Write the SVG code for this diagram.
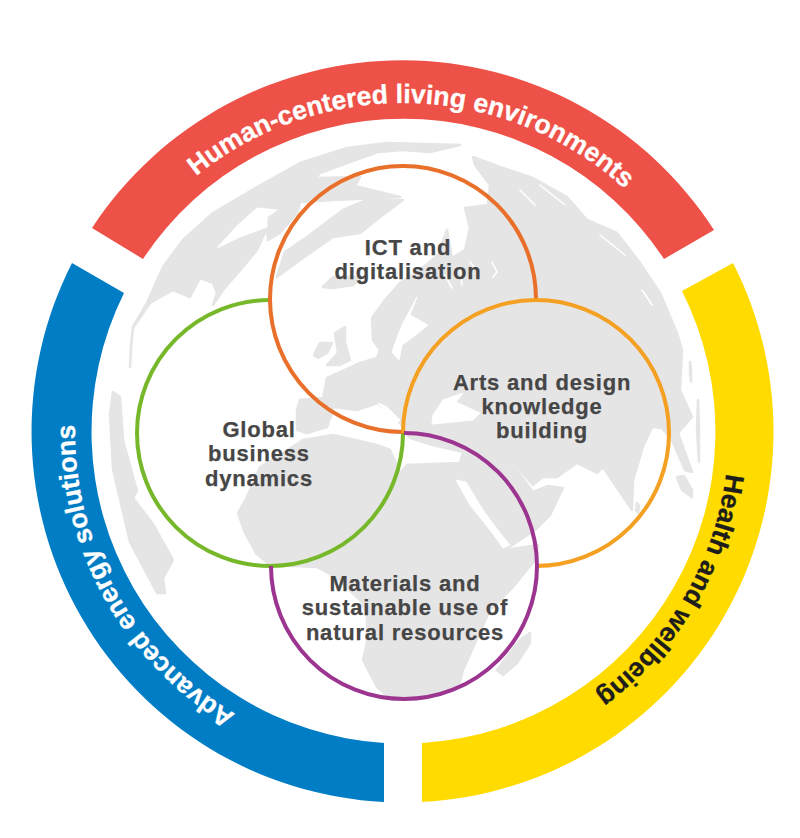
<svg xmlns="http://www.w3.org/2000/svg" width="800" height="838" viewBox="0 0 800 838">
<style>
.land{fill:#e6e5e5;stroke:#e6e5e5;stroke-width:2.5;stroke-linejoin:round}
.sea{fill:#fff;stroke:#fff;stroke-width:1;stroke-linejoin:round}
.fj{fill:none;stroke:#fff;stroke-width:1.6;stroke-linecap:round;stroke-linejoin:round}
.arc{fill:none;stroke-width:4}
.lab{font-family:"Liberation Sans",Arial,sans-serif;font-weight:700;font-size:22px;letter-spacing:.8px;fill:#464646;stroke:#464646;stroke-width:.25px;text-anchor:middle}
.ring{font-family:"Liberation Sans",Arial,sans-serif;font-weight:700;font-size:26.5px;stroke-width:.3px;text-anchor:middle}
</style>
<defs>
<path id="pr" d="M97.3 310.4A329 329 0 0 1 715.4 328.7"/>
<path id="pb" d="M368.7 758.2A328 328 0 0 1 108.2 288.2"/>
<path id="py" d="M699.6 297A326 326 0 0 1 428.6 757"/>
</defs>
<rect width="800" height="838" fill="#fff"/>
<g id="map">
<path class="land" d="M133 327L147 303L163 267L183 240L213 213L257 187L300 163L347 148L387 143L460 145L430 152L403 150L378 152L350 162L320 173L303 192L297 213L280 233L268 240L267 228L257 250L243 267L223 290L213 305L217 293L213 283L200 278L190 297L173 290L150 303L135 325Z"/>
<path class="sea" d="M217 248L237 226L257 208L277 210L267 217L267 227L240 237Z"/>
<path class="land" d="M303 192L317 178L360 177L355 186L400 197L333 200L300 202Z"/>
<path class="land" d="M277 277L285 252L307 237L343 210L367 200L403 200L380 217L360 233L333 237L300 260Z"/>
<path class="land" d="M323 287L333 277L362 277L353 285L333 288Z"/>
<path class="land" d="M314 355L320 343L332 343L327 353L318 358Z"/>
<path class="land" d="M327 365L338 353L335 333L345 327L345 343L350 360L340 365Z"/>
<path class="land" d="M297 430L297 410L300 400L323 398L327 378L345 370L360 363L377 358L380 350L373 340L372 318L385 300L400 283L420 270L438 255L447 230L452 258L465 250L470 228L465 208L488 205L490 185L475 165L473 157L500 167L533 178L567 197L587 220L617 233L640 263L660 293L677 333L682 350L680 390L692 417L678 433L692 472L685 470L672 440L662 428L652 427L643 447L633 480L632 510L622 495L603 467L597 473L577 463L557 477L543 477L533 485L515 465L490 470L463 452L433 445L410 438L400 423L390 417L378 403L357 410L333 407L332 413L327 427L307 433Z"/>
<path class="land" d="M303 440L277 457L260 467L247 497L238 513L245 533L256 553L270 565L317 567L337 578L360 600L367 613L367 642L363 660L377 687L393 700L417 697L447 690L460 682L463 670L490 610L513 587L535 560L538 545L505 550L535 530L550 515L563 488L548 486L533 492L515 468L490 470L463 452L460 463L407 465L400 473L390 450L377 445L333 435Z"/>
<path class="land" d="M497 670L520 640L530 633L530 643L517 663L503 675Z"/>
<path class="land" d="M113 392L110 414L113 469L130 542L157 593L165 593L163 578L173 560L153 524L133 498L137 491L123 440L120 397Z"/>
<path class="land" d="M677 477L684 476L692 490L692 497L682 490Z"/>
<path class="land" d="M690 362L691 370L691 382L690 372Z"/>
<path class="land" d="M698 400L699 430L699 462L697 430Z"/>
<path class="land" d="M130 367L131 345L133 327L131 350Z"/>
<path class="land" d="M637 503L639 506L638 513L636 510Z"/>
<path class="sea" d="M433 415L443 400L463 393L456 402L480 413L473 420L443 423L432 424Z"/>
<path class="sea" d="M417 297L410 315L428 325L413 337L402 345L399 360L392 352L398 335L403 323Z"/>
<path class="sea" d="M378 403L387 407L400 420L396 424L385 413Z"/>
<path class="sea" d="M456 480L466 482L483 510L500 533L510 545L503 548L490 530L470 505Z"/>
<path class="fj" d="M470 262L478 272M492 262L497 272L493 277M445 275L452 288M460 270L462 285M540 185L565 205M600 235L625 255M520 190L535 205M642 290L652 305"/>
</g>
<g id="ring-human">
<path fill="#ee5147" d="M92 228A371 371 0 0 1 714 230L664 259A312 312 0 0 0 143 259Z"/>
<text class="ring" fill="#fff" stroke="#fff"><textPath href="#pr" startOffset="50%">Human-centered living environments</textPath></text>
</g>
<g id="ring-energy">
<path fill="#007dc5" d="M72 263A371 371 0 0 0 384 802L384 743A312 312 0 0 1 124 293Z"/>
<text class="ring" fill="#fff" stroke="#fff"><textPath href="#pb" startOffset="50%">Advanced energy solutions</textPath></text>
</g>
<g id="ring-health">
<path fill="#ffdb00" d="M733 263A371 371 0 0 1 422 802L422 743A312 312 0 0 0 682 291Z"/>
<text class="ring" fill="#1d1d1b" stroke="#1d1d1b"><textPath href="#py" startOffset="50%">Health and wellbeing</textPath></text>
</g>
<g id="node-global">
<path class="arc" stroke="#76b82a" d="M270 300A133 133 0 1 0 403 433"/>
<text class="lab" x="259" y="437">Global</text><text class="lab" x="259" y="461">business</text><text class="lab" x="259" y="486">dynamics</text>
</g>
<g id="node-ict">
<path class="arc" stroke="#e8702a" d="M536 299A133 133 0 1 0 403 432"/>
<text class="lab" x="408" y="255">ICT and</text><text class="lab" x="408" y="279">digitalisation</text>
</g>
<g id="node-arts">
<path class="arc" stroke="#f4a023" d="M403 433A133 133 0 1 1 536 566"/>
<text class="lab" x="542" y="390">Arts and design</text><text class="lab" x="542" y="414">knowledge</text><text class="lab" x="542" y="438">building</text>
</g>
<g id="node-materials">
<path class="arc" stroke="#9c3590" d="M404 433A133 133 0 1 1 271 566"/>
<text class="lab" x="405" y="591">Materials and</text><text class="lab" x="405" y="615">sustainable use of</text><text class="lab" x="405" y="640">natural resources</text>
</g>
</svg>
